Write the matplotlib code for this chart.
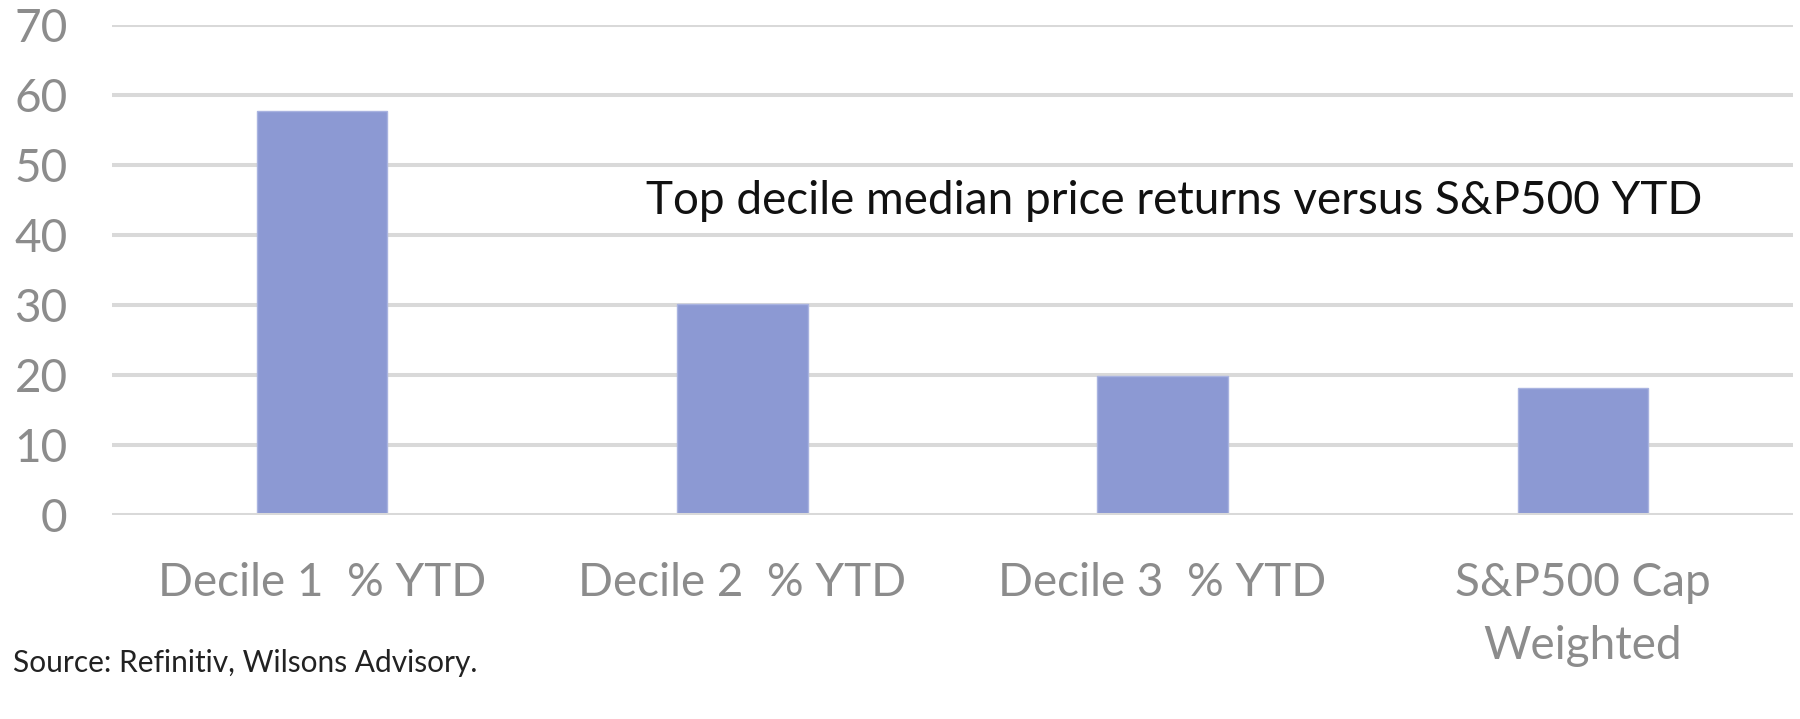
import matplotlib
matplotlib.use("Agg")
import matplotlib.pyplot as plt

categories = ["Decile 1  % YTD", "Decile 2  % YTD", "Decile 3  % YTD", "S&P500 Cap\nWeighted"]
values = [57.7, 30.2, 19.8, 18.2]
yticks = [0, 10, 20, 30, 40, 50, 60, 70]
title_text = "Top decile median price returns versus S&P500 YTD"
source_text = "Source: Refinitiv, Wilsons Advisory."

plt.rcParams['font.family'] = ['Lato', 'DejaVu Sans']

W, H = 1800, 719
fig = plt.figure(figsize=(W / 100, H / 100), dpi=100)
ax = fig.add_axes([112 / W, 1 - 515 / H, (1793 - 112) / W, (515 - 25) / H])

x = list(range(len(categories)))
ax.bar(x, values, width=0.31, color="#8c99d3", edgecolor="#a9b3e0", linewidth=1.0, zorder=3)

ax.set_xlim(-0.5, len(categories) - 0.5)
ax.set_ylim(0, 70)
ax.set_yticks(yticks)
ax.set_yticklabels([str(v) for v in yticks])
ax.set_xticks(x)
ax.set_xticklabels(categories, linespacing=1.6)

for v in yticks:
    ax.axhline(v, color="#d9d9d9", linewidth=2.9, zorder=1 if v else 4)

for s in ax.spines.values():
    s.set_visible(False)

ax.tick_params(axis="both", length=0, labelsize=33)
ax.tick_params(axis="y", pad=32)
ax.tick_params(axis="x", pad=34)
for lbl in ax.get_xticklabels() + ax.get_yticklabels():
    lbl.set_fontweight("normal")
    lbl.set_color("#8c8c8c")

fig.text(646 / W, 1 - 201 / H, title_text, fontsize=33, color="#111111",
         ha="left", va="center")
fig.text(13 / W, 1 - 663 / H, source_text, fontsize=21.5, color="#222222",
         ha="left", va="center")

fig.savefig("out.png", dpi=100, facecolor="white")
